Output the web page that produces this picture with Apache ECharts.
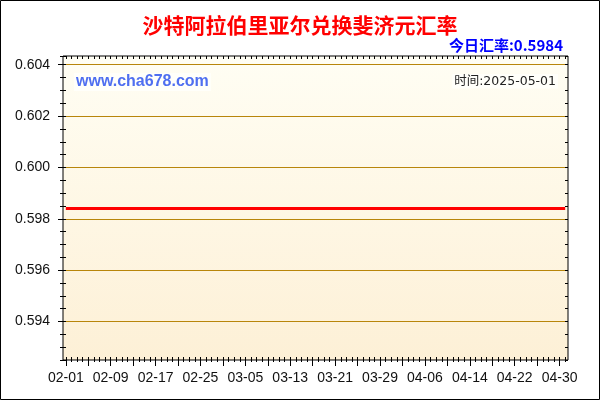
<!DOCTYPE html>
<html>
<head>
<meta charset="utf-8">
<script src="https://cdn.jsdelivr.net/npm/echarts@6/dist/echarts.min.js"></script>
<style>html,body{margin:0;padding:0;background:#fff}#c{width:600px;height:400px}</style>
</head>
<body>
<div id="c"></div>
<script>
var titleText = '沙特阿拉伯里亚尔兑换斐济元汇率';
var siteText = 'www.cha678.com';
var dateText = '时间:2025-05-01';
var categories = [
 '02-01','02-02','02-03','02-04','02-05','02-06','02-07','02-08','02-09','02-10',
 '02-11','02-12','02-13','02-14','02-15','02-16','02-17','02-18','02-19','02-20',
 '02-21','02-22','02-23','02-24','02-25','02-26','02-27','02-28',
 '03-01','03-02','03-03','03-04','03-05','03-06','03-07','03-08','03-09','03-10',
 '03-11','03-12','03-13','03-14','03-15','03-16','03-17','03-18','03-19','03-20',
 '03-21','03-22','03-23','03-24','03-25','03-26','03-27','03-28','03-29','03-30','03-31',
 '04-01','04-02','04-03','04-04','04-05','04-06','04-07','04-08','04-09','04-10',
 '04-11','04-12','04-13','04-14','04-15','04-16','04-17','04-18','04-19','04-20',
 '04-21','04-22','04-23','04-24','04-25','04-26','04-27','04-28','04-29','04-30',
 '05-01'
];
var rates = [
 0.5984,0.5984,0.5984,0.5984,0.5984,0.5984,0.5984,0.5984,0.5984,0.5984,
 0.5984,0.5984,0.5984,0.5984,0.5984,0.5984,0.5984,0.5984,0.5984,0.5984,
 0.5984,0.5984,0.5984,0.5984,0.5984,0.5984,0.5984,0.5984,
 0.5984,0.5984,0.5984,0.5984,0.5984,0.5984,0.5984,0.5984,0.5984,0.5984,
 0.5984,0.5984,0.5984,0.5984,0.5984,0.5984,0.5984,0.5984,0.5984,0.5984,
 0.5984,0.5984,0.5984,0.5984,0.5984,0.5984,0.5984,0.5984,0.5984,0.5984,0.5984,
 0.5984,0.5984,0.5984,0.5984,0.5984,0.5984,0.5984,0.5984,0.5984,0.5984,
 0.5984,0.5984,0.5984,0.5984,0.5984,0.5984,0.5984,0.5984,0.5984,0.5984,
 0.5984,0.5984,0.5984,0.5984,0.5984,0.5984,0.5984,0.5984,0.5984,0.5984,
 0.5984
];
var yMin = 0.5925, yMax = 0.60434;

var chart = echarts.init(document.getElementById('c'), null, {renderer: 'canvas'});
var numFont = '"Liberation Sans", Arial, sans-serif';
var cjkFont = '"Noto Sans CJK SC", sans-serif';
var gold = '#b8860b';

function hiddenCat(extra) {
  var a = {
    type: 'category', data: categories, boundaryGap: true, gridIndex: 0,
    axisLine: {show: false}, axisLabel: {show: false}, splitLine: {show: false}
  };
  for (var k in extra) a[k] = extra[k];
  return a;
}
function hiddenVal(extra) {
  var a = {
    type: 'value', min: yMin, max: yMax, gridIndex: 0,
    axisLine: {show: false}, axisLabel: {show: false}, splitLine: {show: false}
  };
  for (var k in extra) a[k] = extra[k];
  return a;
}

chart.setOption({
  animation: false,
  backgroundColor: '#ffffff',
  title: [
    {text: titleText, left: 'center', top: 10,
     textStyle: {color: '#ff0000', fontSize: 21, fontWeight: 'bold', fontFamily: cjkFont}},
    {text: '今日汇率:' + rates[rates.length - 1], right: 32, top: 33,
     textStyle: {color: '#0000ff', fontSize: 15, fontWeight: 'bold', fontFamily: cjkFont}},
    {text: siteText, left: 74, top: 73, backgroundColor: '#fffffa', padding: [1, 2],
     textStyle: {color: '#4f6ff0', fontSize: 16, fontWeight: 'bold', fontFamily: numFont}},
    {text: dateText, right: 42, top: 74, backgroundColor: '#fffffa', padding: [1, 2],
     textStyle: {color: '#222222', fontSize: 12.5, fontWeight: 'normal',
       fontFamily: '"DejaVu Sans", "Noto Sans CJK SC", sans-serif'}}
  ],
  grid: {
    left: 63, right: 32, top: 56, bottom: 40, show: true,
    borderColor: '#000', borderWidth: 1,
    backgroundColor: new echarts.graphic.LinearGradient(0, 0, 0, 1, [
      {offset: 0, color: '#fffef4'},
      {offset: 1, color: '#fdf0d6'}
    ])
  },
  xAxis: [
    hiddenCat({position: 'bottom',
      axisTick: {show: true, interval: 3, alignWithLabel: true, length: 6, lineStyle: {color: '#000'}},
      axisLabel: {show: true, interval: 7, margin: 11, color: '#111', fontSize: 14, fontFamily: numFont}}),
    hiddenCat({position: 'bottom',
      axisTick: {show: true, interval: 0, alignWithLabel: true, inside: true, length: 3, lineStyle: {color: '#000'}}}),
    hiddenCat({position: 'bottom',
      axisTick: {show: true, interval: 0, alignWithLabel: true, length: 2, lineStyle: {color: '#000'}}}),
    hiddenCat({position: 'top',
      axisTick: {show: true, interval: 0, alignWithLabel: true, inside: true, length: 3, lineStyle: {color: '#000'}}})
  ],
  yAxis: [
    {type: 'value', min: yMin, max: yMax, splitNumber: 5, position: 'left', gridIndex: 0,
     axisLine: {show: false},
     axisTick: {show: true, length: 5, lineStyle: {color: '#000'}},
     axisLabel: {show: true, margin: 13, color: '#111', fontSize: 14, fontFamily: numFont,
       showMinLabel: false, showMaxLabel: false,
       formatter: function (v) { return v.toFixed(3); }},
     splitLine: {show: true, showMinLine: false, showMaxLine: false, lineStyle: {color: gold, width: 1}}},
    hiddenVal({position: 'left', interval: 0.0005,
      axisTick: {show: true, length: 3, lineStyle: {color: '#000'}}}),
    hiddenVal({position: 'left', interval: 0.0005,
      axisTick: {show: true, inside: true, length: 3, lineStyle: {color: '#000'}}}),
    hiddenVal({position: 'right', interval: 0.0005,
      axisTick: {show: true, inside: true, length: 3, lineStyle: {color: '#000'}}})
  ],
  series: [{
    type: 'line', data: rates, xAxisIndex: 0, yAxisIndex: 0,
    symbol: 'none', lineStyle: {color: '#ff0000', width: 3}, z: 5
  }],
  graphic: [{
    type: 'rect', shape: {x: 0.5, y: 0.5, width: 599, height: 399},
    style: {fill: 'none', stroke: '#000', lineWidth: 1}, silent: true, z: 100
  }]
});
</script>
</body>
</html>
